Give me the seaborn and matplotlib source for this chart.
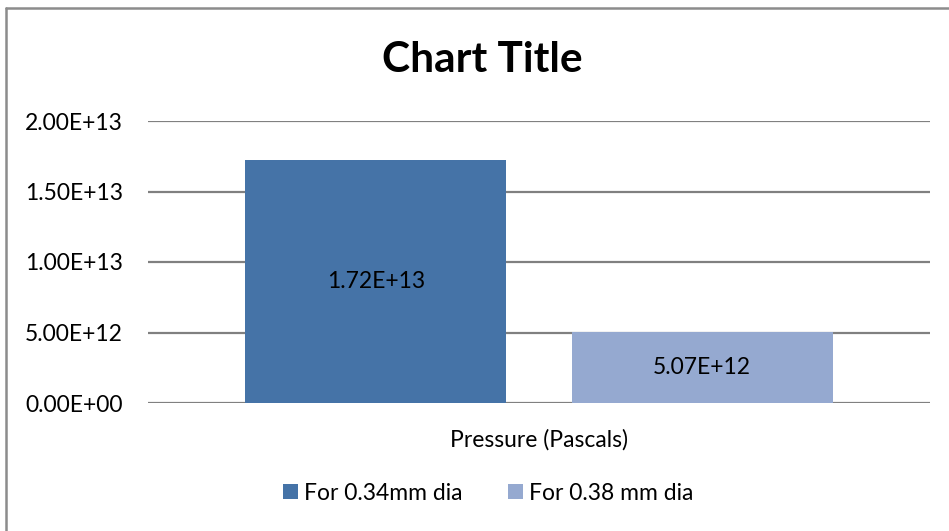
import matplotlib
matplotlib.use("Agg")
import matplotlib.pyplot as plt
import matplotlib.ticker as mticker
from matplotlib.patches import Patch
from matplotlib.lines import Line2D
import pandas as pd
import seaborn as sns

# Data
categories = ["Pressure (Pascals)"]
series = ["For 0.34mm dia", "For 0.38 mm dia"]
values = [1.72e13, 5.07e12]
y_ticks = [0, 5e12, 1e13, 1.5e13, 2e13]

colors = ["#4573A7", "#95A9D0"]

sns.set_theme(style="white")
plt.rcParams["font.family"] = ["Lato", "DejaVu Sans"]
plt.rcParams["text.color"] = "black"

df = pd.DataFrame({
    "category": [categories[0]] * len(series),
    "series": series,
    "value": values,
})

W, H = 949, 531
fig = plt.figure(figsize=(W / 100, H / 100), dpi=100)
fig.patch.set_facecolor("white")
ax = fig.add_axes([148 / W, 1 - 403 / H, (930 - 148) / W, (403 - 121) / H])

sns.barplot(data=df, x="category", y="value", hue="series", palette=colors,
            width=0.835, gap=0.2, saturation=1, linewidth=0, legend=False,
            ax=ax, zorder=3)

ax.set_ylim(0, 2e13)
ax.set_yticks(y_ticks)
ax.yaxis.set_major_formatter(mticker.FuncFormatter(lambda v, p: f"{v:.2E}"))
ax.grid(axis="y", color="#808080", linewidth=1.6, zorder=0)
ax.set_axisbelow(True)
for s in ax.spines.values():
    s.set_visible(False)
ax.tick_params(axis="both", length=0, labelsize=16.5, colors="black")
ax.tick_params(axis="y", pad=18)
ax.tick_params(axis="x", pad=19)
ax.set_xlabel("")
ax.set_ylabel("")

for cont, v in zip(ax.containers, values):
    ax.bar_label(cont, labels=[f"{v:.2E}"], label_type="center", fontsize=16.5, color="black")

fig.text(482 / W, 1 - 60 / H, "Chart Title", ha="center", va="center",
         fontsize=30.5, fontweight="bold", color="black")

handles = [Patch(facecolor=c, edgecolor="none") for c in colors]
fig.legend(handles, series, loc="center", bbox_to_anchor=(488 / W, 1 - 493 / H),
           ncol=2, frameon=False, fontsize=16.5, handlelength=0.65, handleheight=0.65,
           handletextpad=0.25, columnspacing=2.0)

# Chart frame (top and left edges)
fx = 5.5 / W
fy = 1 - 7.5 / H
fig.add_artist(Line2D([fx, fx], [0, fy], transform=fig.transFigure, color="#8C8C8C", linewidth=1.8))
fig.add_artist(Line2D([fx, 1], [fy, fy], transform=fig.transFigure, color="#8C8C8C", linewidth=1.8))

fig.savefig("out.png", dpi=100, facecolor="white")
